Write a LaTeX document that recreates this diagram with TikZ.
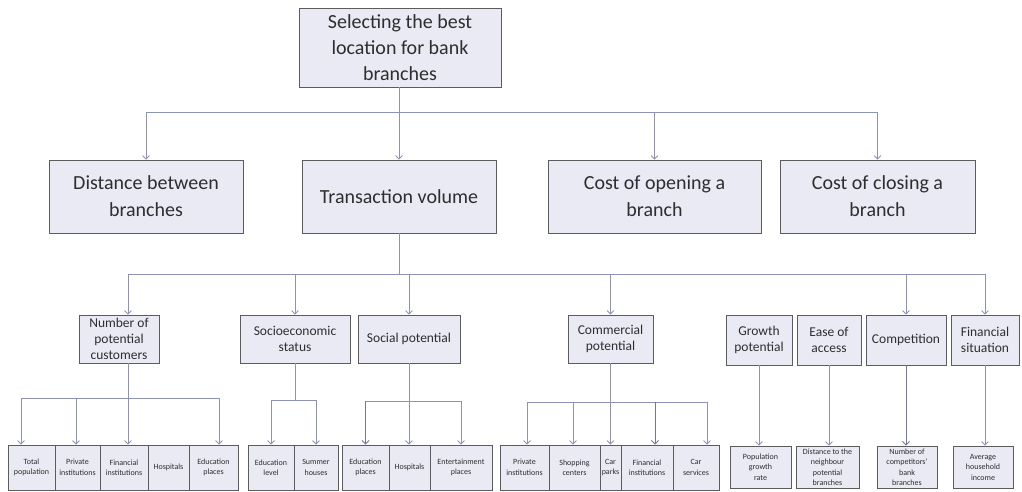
\documentclass[tikz,border=0pt]{standalone}
\usepackage{fontspec}
\setmainfont{Carlito}
\usetikzlibrary{arrows.meta}
\definecolor{boxfill}{HTML}{E9EAF4}
\definecolor{boxline}{HTML}{5C5C5C}
\definecolor{conn}{HTML}{8E92B8}
\definecolor{conndark}{HTML}{7276A2}
\definecolor{txt}{HTML}{2E2E2E}
\tikzset{
  box/.style={draw=boxline, fill=boxfill, line width=0.8pt, align=center, inner sep=1pt, text=txt},
  lone/.style={box, font=\fontsize{20}{27}\selectfont},
  ltwo/.style={box, font=\fontsize{13.5}{16}\selectfont},
  lthree/.style={box, font=\fontsize{8}{10.5}\selectfont},
  link/.style={draw=conn, line width=0.8pt},
  arr/.style={link, -{Straight Barb[length=3.5pt,width=7pt]}},
  darr/.style={arr, draw=conndark, line width=0.95pt},
}
\begin{document}
\begin{tikzpicture}[x=1pt,y=-1pt]
\useasboundingbox (0,0) rectangle (1022,491);
% level 0
\node[lone, font=\fontsize{20}{26}\selectfont, minimum width=202, minimum height=79] (top) at (400,47.5) {Selecting the best\\location for bank\\branches};
% level 1
\node[lone, minimum width=194, minimum height=73] (dist)  at (146,196.5)   {Distance between\\branches};
\node[lone, minimum width=194, minimum height=73] (trans) at (399,196.5)   {Transaction volume};
\node[lone, minimum width=213, minimum height=73] (open)  at (654.5,196.5) {Cost of opening a\\branch};
\node[lone, minimum width=195, minimum height=73] (close) at (877.5,196.5) {Cost of closing a\\branch};
% level 2
\node[ltwo, minimum width=80,  minimum height=48] (num)    at (119,339)   {Number of\\potential\\customers};
\node[ltwo, minimum width=110, minimum height=48] (socio)  at (295,339)   {Socioeconomic\\status};
\node[ltwo, minimum width=102, minimum height=48] (social) at (409,339)   {Social potential};
\node[ltwo, minimum width=85,  minimum height=48] (comm)   at (610.5,339) {Commercial\\potential};
\node[ltwo, minimum width=66,  minimum height=50] (growth) at (759,340)   {Growth\\potential};
\node[ltwo, minimum width=64,  minimum height=50] (ease)   at (829,340)   {Ease of\\access};
\node[ltwo, minimum width=80,  minimum height=50] (comp)   at (906,340)   {Competition};
\node[ltwo, minimum width=68,  minimum height=50] (fin)    at (985,340)   {Financial\\situation};
% level 3
\node[lthree, minimum width=47, minimum height=45] (tp)   at (31.5,467.5)  {Total\\population};
\node[lthree, minimum width=45, minimum height=45] (pi)   at (77.5,467.5)  {Private\\institutions};
\node[lthree, minimum width=48, minimum height=45] (fi)   at (124,467.5)   {Financial\\institutions};
\node[lthree, minimum width=41, minimum height=45] (hosp) at (168.5,467.5)  {Hospitals};
\node[lthree, minimum width=49, minimum height=45] (ep)   at (213.5,467.5)  {Education\\places};
\node[lthree, minimum width=46, minimum height=45] (el)   at (271,467.5)   {Education\\level};
\node[lthree, minimum width=44, minimum height=45] (sh)   at (316,467.5)   {Summer\\houses};
\node[lthree, minimum width=47, minimum height=45] (sep)  at (365.5,467.5)  {Education\\places};
\node[lthree, minimum width=41, minimum height=45] (shos) at (409.5,467.5)  {Hospitals};
\node[lthree, minimum width=62, minimum height=45] (ent)  at (461,467.5)   {Entertainment\\places};
\node[lthree, minimum width=49, minimum height=45] (cpi)  at (524.5,467.5)  {Private\\institutions};
\node[lthree, minimum width=51, minimum height=45] (scc)  at (574.5,467.5)  {Shopping\\centers};
\node[lthree, minimum width=21, minimum height=45] (cp)   at (610.5,467.5)  {Car\\parks};
\node[lthree, minimum width=52, minimum height=45] (cfi)  at (647,467.5)   {Financial\\institutions};
\node[lthree, minimum width=46, minimum height=45] (cs)   at (696,467.5)   {Car\\services};
\node[lthree, minimum width=61, minimum height=42] (pgr)  at (760.5,467)   {Population\\growth\\rate};
\node[lthree, minimum width=63, minimum height=42] (dtn)  at (827.5,467)   {Distance to the\\neighbour\\potential\\branches};
\node[lthree, minimum width=60, minimum height=42] (ncb)  at (907,467)     {Number of\\competitors'\\bank\\branches};
\node[lthree, minimum width=60, minimum height=42] (ahi)  at (983,467)     {Average\\household\\income};
% connectors level 0 -> 1
\coordinate (b1) at (399,112);
\draw[link] (top.south -| b1) -- (b1);
\draw[link] (dist.north |- b1) -- (close.north |- b1);
\draw[arr] (dist.north |- b1) -- (dist.north);
\draw[arr] (b1) -- (trans.north);
\draw[arr] (open.north |- b1) -- (open.north);
\draw[arr] (close.north |- b1) -- (close.north);
% connectors level 1 -> 2
\coordinate (b2) at (128,274);
\draw[link] (trans.south) -- (trans.south |- b2);
\draw[link] (b2) -- (fin.north |- b2);
\draw[arr] (b2) -- (b2 |- num.north);
\draw[arr] (socio.north |- b2) -- (socio.north);
\draw[arr] (social.north |- b2) -- (social.north);
\draw[arr] (comm.north |- b2) -- (comm.north);
\draw[arr] (comp.north |- b2) -- (comp.north);
\draw[arr] (fin.north |- b2) -- (fin.north);
% num -> children
\coordinate (n3a) at (21,398);
\coordinate (n3b) at (76,398);
\coordinate (n3c) at (128,398);
\coordinate (n3d) at (219,398);
\draw[link] (b2 |- num.south) -- (n3c);
\draw[link] (n3a) -- (n3d);
\draw[arr] (n3a) -- (n3a |- tp.north);
\draw[arr] (n3b) -- (n3b |- pi.north);
\draw[arr] (n3c) -- (n3c |- fi.north);
\draw[arr] (n3d) -- (n3d |- ep.north);
% socio -> children
\coordinate (s3) at (295,400);
\draw[link] (socio.south) -- (s3);
\draw[link] (el.north |- s3) -- (sh.north |- s3);
\draw[arr] (el.north |- s3) -- (el.north);
\draw[arr] (sh.north |- s3) -- (sh.north);
% social -> children
\coordinate (p3) at (409,401);
\draw[link] (sep.north |- p3) -- (ent.north |- p3);
\draw[darr] (sep.north |- p3) -- (sep.north);
\draw[arr] (social.south) -- (social.south |- shos.north);
\draw[arr] (ent.north |- p3) -- (ent.north);
% comm -> children
\coordinate (c3a) at (527,402);
\coordinate (c3b) at (573,402);
\coordinate (c3d) at (655,402);
\coordinate (c3e) at (707,402);
\draw[link] (c3a) -- (c3e);
\draw[arr] (c3a) -- (c3a |- cpi.north);
\draw[arr] (c3b) -- (c3b |- scc.north);
\draw[arr] (comm.south) -- (comm.south |- cp.north);
\draw[darr] (c3d) -- (c3d |- cfi.north);
\draw[arr] (c3e) -- (c3e |- cs.north);
% right group
\draw[arr] (growth.south) -- (growth.south |- pgr.north);
\draw[arr] (ease.south) -- (ease.south |- dtn.north);
\draw[darr] (comp.south) -- (comp.south |- ncb.north);
\draw[arr] (fin.south) -- (fin.south |- ahi.north);
\end{tikzpicture}
\end{document}
